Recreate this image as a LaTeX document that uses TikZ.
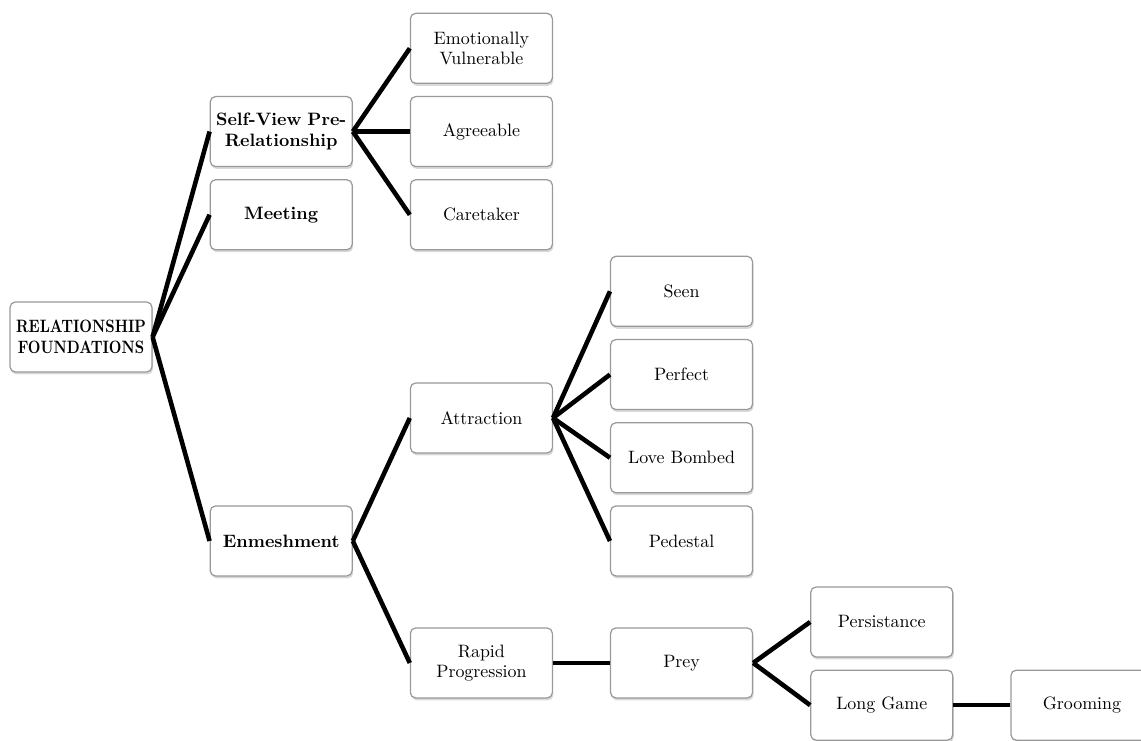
\documentclass[tikz,border=0pt]{standalone}
\usepackage{tikz}
\usetikzlibrary{positioning,shadows}

\begin{document}
\begin{tikzpicture}[x=0.02cm,y=-0.02cm,node distance=0.24cm and 1.14cm,
                    line width=2.6pt,line join=round]
  \tikzstyle{box}=[rectangle,rounded corners=3pt,draw=gray!80,line width=0.7pt,fill=white,
                   text=black,minimum width=2.84cm,minimum height=1.4cm,text width=2.7cm,
                   align=center,inner sep=1pt,font=\fontsize{10.2}{11.6}\selectfont,
                   drop shadow={opacity=0.3,shadow xshift=0.6pt,shadow yshift=-1.4pt}]
  \tikzstyle{head}=[box,font=\fontsize{10.2}{11.6}\selectfont\bfseries]

  \useasboundingbox (0,0) rectangle (1141,740);

  \node[head] (R) at (81,337) {\scalebox{0.82}[1]{RELATIONSHIP}\\\scalebox{0.82}[1]{FOUNDATIONS}};
  \node[head] (S) [right=of R, yshift=4.11cm] {Self-View Pre-\\Relationship};
  \node[head] (M) [below=of S] {Meeting};
  \node[head] (E) [right=of R, yshift=-4.08cm] {Enmeshment};

  \node[box]  (AG) [right=of S] {Agreeable};
  \node[box]  (EV) [above=of AG] {Emotionally\\Vulnerable};
  \node[box]  (CT) [below=of AG] {Caretaker};

  \node[box]  (AT) [right=of E, yshift=2.46cm] {Attraction};
  \node[box]  (RP) [right=of E, yshift=-2.44cm] {Rapid\\Progression};

  \node[box]  (PD) [right=of AT, yshift=-2.46cm] {Pedestal};
  \node[box]  (LB) [above=of PD] {Love Bombed};
  \node[box]  (PF) [above=of LB] {Perfect};
  \node[box]  (SE) [above=of PF] {Seen};

  \node[box]  (PY) [right=of RP] {Prey};
  \node[box]  (PS) [right=of PY, yshift=0.82cm] {Persistance};
  \node[box]  (LG) [below=of PS] {Long Game};
  \node[box]  (GR) [right=of LG] {Grooming};

  \path (R.east) edge (S.west)
                 edge (M.west)
                 edge (E.west)
        (S.east) edge (EV.west)
                 edge (AG.west)
                 edge (CT.west)
        (E.east) edge (AT.west)
                 edge (RP.west)
        (AT.east) edge (SE.west)
                  edge (PF.west)
                  edge (LB.west)
                  edge (PD.west)
        (RP.east) edge (PY.west)
        (PY.east) edge (PS.west)
                  edge (LG.west)
        (LG.east) edge (GR.west);
\end{tikzpicture}
\end{document}
